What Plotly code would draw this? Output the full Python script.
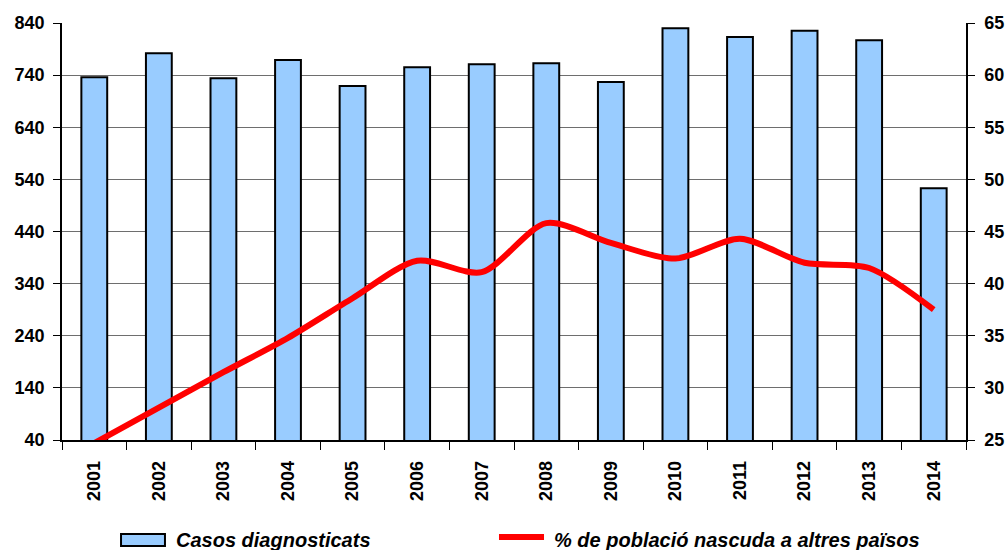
import plotly.graph_objects as go

# values
years = ["2001", "2002", "2003", "2004", "2005", "2006", "2007",
         "2008", "2009", "2010", "2011", "2012", "2013", "2014"]
casos = [736, 782, 734, 769, 719, 755, 761, 763, 727, 830, 813, 825, 807, 523]
pct_estrangers = [24.7, 28.1, 31.5, 34.8, 38.6, 42.2, 41.1,
                  45.8, 43.9, 42.4, 44.3, 42.0, 41.5, 37.5]

left_ticks = [40, 140, 240, 340, 440, 540, 640, 740, 840]
right_ticks = [25, 30, 35, 40, 45, 50, 55, 60, 65]

name_bars = "Casos diagnosticats"
name_line = "% de població nascuda a altres països"

FONT = "Liberation Sans, Arial, sans-serif"

fig = go.Figure()

fig.add_trace(
    go.Bar(
        x=years,
        y=casos,
        name=name_bars,
        marker=dict(color="#99CCFF", line=dict(color="black", width=2)),
        width=0.4,
    )
)

fig.add_trace(
    go.Scatter(
        x=years,
        y=pct_estrangers,
        name=name_line,
        mode="lines",
        line=dict(color="#FF0000", width=6, shape="spline", smoothing=0.8),
        yaxis="y2",
    )
)

# legend drawn by hand so the swatches match the original (wide box, short line)
fig.add_shape(type="rect", xref="paper", yref="paper",
              x0=0.0653, x1=0.1139, y0=-0.2542, y1=-0.2254,
              fillcolor="#99CCFF", line=dict(color="black", width=2))
fig.add_shape(type="line", xref="paper", yref="paper",
              x0=0.4834, x1=0.5332, y0=-0.2326, y1=-0.2326,
              line=dict(color="#FF0000", width=6))
fig.add_annotation(text=f"<b><i>{name_bars}</i></b>", xref="paper", yref="paper",
                   x=0.1239, y=-0.2398, xanchor="left", yanchor="middle",
                   showarrow=False, font=dict(family=FONT, size=20, color="black"))
fig.add_annotation(text=f"<b><i>{name_line}</i></b>", xref="paper", yref="paper",
                   x=0.542, y=-0.2398, xanchor="left", yanchor="middle",
                   showarrow=False, font=dict(family=FONT, size=20, color="black"))

fig.update_layout(
    width=1008,
    height=550,
    margin=dict(l=62, r=42, t=23, b=110),
    plot_bgcolor="white",
    paper_bgcolor="white",
    font=dict(family=FONT, size=18, color="black"),
    showlegend=False,
    bargap=0.6,
)

fig.update_xaxes(
    type="category",
    automargin=False,
    tickangle=-90,
    tickfont=dict(family=FONT, size=18, color="black"),
    tickprefix="<b>",
    ticksuffix="</b>",
    ticks="outside",
    tickson="boundaries",
    ticklen=8,
    tickcolor="black",
    ticklabelstandoff=12,
    showline=True,
    linecolor="black",
    linewidth=1.5,
    showgrid=False,
)

fig.update_layout(
    yaxis=dict(
        range=[40, 840],
        automargin=False,
        tickvals=left_ticks,
        ticktext=[f"<b>{v}</b>" for v in left_ticks],
        ticks="outside",
        ticklen=7,
        tickcolor="black",
        ticklabelstandoff=5,
        showline=True,
        linecolor="black",
        linewidth=1.5,
        showgrid=True,
        gridcolor="#6e6e6e",
        gridwidth=1,
        zeroline=False,
        tickfont=dict(family=FONT, size=18, color="black"),
    ),
    yaxis2=dict(
        range=[25, 65],
        automargin=False,
        tickvals=right_ticks,
        ticktext=[f"<b>{v}</b>" for v in right_ticks],
        overlaying="y",
        side="right",
        ticks="outside",
        ticklen=7,
        tickcolor="black",
        ticklabelstandoff=6,
        showline=True,
        linecolor="black",
        linewidth=1.5,
        showgrid=False,
        zeroline=False,
        tickfont=dict(family=FONT, size=18, color="black"),
    ),
)

# page body has a default 8px margin; remove it so the figure sits at the corner
fig.write_html(
    "out.html",
    config={"displayModeBar": False},
    post_script="document.body.style.margin='0';",
)
